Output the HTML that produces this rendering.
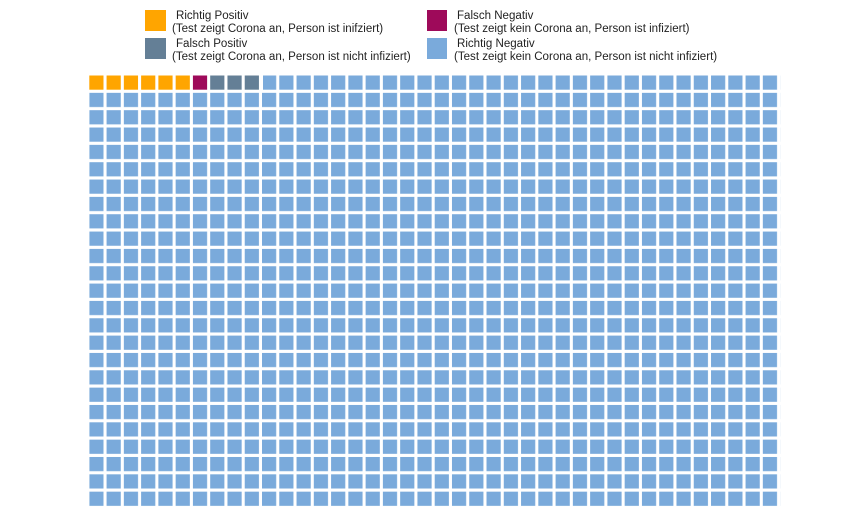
<!DOCTYPE html>
<html><head><meta charset="utf-8"><style>
html,body{margin:0;padding:0;background:#fff;}
body{width:850px;height:512px;overflow:hidden;font-family:"Liberation Sans",sans-serif;}
</style></head><body>
<svg width="850" height="512" xmlns="http://www.w3.org/2000/svg" font-family="Liberation Sans, sans-serif" font-size="11.55" fill="#222">
<defs>
<pattern id="p" x="89.3" y="75.5" width="17.27" height="17.34" patternUnits="userSpaceOnUse">
<rect x="0" y="0" width="14.2" height="14.2" fill="#7aaadb"/>
</pattern>
</defs>
<rect x="89.3" y="75.5" width="690.8" height="433.5" fill="url(#p)"/>
<rect x="88" y="74" width="175" height="17" fill="#fff"/>
<g>
<rect x="89.3" y="75.5" width="14.2" height="14.2" fill="#ffa500"/>
<rect x="106.57" y="75.5" width="14.2" height="14.2" fill="#ffa500"/>
<rect x="123.84" y="75.5" width="14.2" height="14.2" fill="#ffa500"/>
<rect x="141.11" y="75.5" width="14.2" height="14.2" fill="#ffa500"/>
<rect x="158.38" y="75.5" width="14.2" height="14.2" fill="#ffa500"/>
<rect x="175.65" y="75.5" width="14.2" height="14.2" fill="#ffa500"/>
<rect x="192.92" y="75.5" width="14.2" height="14.2" fill="#9e0a5a"/>
<rect x="210.19" y="75.5" width="14.2" height="14.2" fill="#647f96"/>
<rect x="227.46" y="75.5" width="14.2" height="14.2" fill="#647f96"/>
<rect x="244.73" y="75.5" width="14.2" height="14.2" fill="#647f96"/>
</g>
<rect x="145" y="10" width="21" height="21" fill="#ffa500"/>
<rect x="145" y="38" width="21" height="21" fill="#647f96"/>
<rect x="427" y="10" width="20" height="21" fill="#9e0a5a"/>
<rect x="427" y="38" width="20" height="21" fill="#7aaadb"/>
<text x="176" y="19">Richtig Positiv</text>
<text x="172" y="32">(Test zeigt Corona an, Person ist inifziert)</text>
<text x="176" y="47">Falsch Positiv</text>
<text x="172" y="60">(Test zeigt Corona an, Person ist nicht infiziert)</text>
<text x="457" y="19">Falsch Negativ</text>
<text x="454" y="32">(Test zeigt kein Corona an, Person ist infiziert)</text>
<text x="457" y="47">Richtig Negativ</text>
<text x="454" y="60">(Test zeigt kein Corona an, Person ist nicht infiziert)</text>
</svg>
</body></html>
